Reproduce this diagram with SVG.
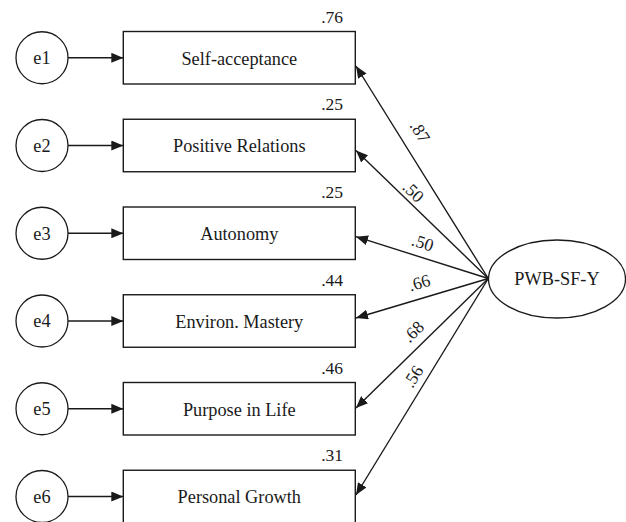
<svg xmlns="http://www.w3.org/2000/svg" width="626" height="522" viewBox="0 0 626 522" font-family="'Liberation Serif', 'DejaVu Serif', serif">
<defs>
<marker id="ah" viewBox="0 0 12 10" refX="12" refY="5" markerWidth="12" markerHeight="10" markerUnits="userSpaceOnUse" orient="auto">
<path d="M0,0 L12,5 L0,10 Z" fill="#1a1a1a"/>
</marker>
</defs>
<style>
text{font-family:'Liberation Serif','DejaVu Serif',serif;fill:#1a1a1a}
.lbl{font-size:18.3px;text-anchor:middle}
.num{font-size:17.5px;text-anchor:end}
.w{font-size:17.5px;text-anchor:middle}
.box{fill:#fff;stroke:#1a1a1a;stroke-width:1.4}
.err{fill:#fff;stroke:#1a1a1a;stroke-width:1.3}
.cn{fill:none;stroke:#1a1a1a;stroke-width:1.4;marker-end:url(#ah)}
</style>
<rect width="626" height="522" fill="#fff"/>
<g id="connectors">
<line class="cn" x1="68" y1="57.75" x2="123.3" y2="57.75"/>
<line class="cn" x1="68" y1="145.5" x2="123.3" y2="145.5"/>
<line class="cn" x1="68" y1="233.25" x2="123.3" y2="233.25"/>
<line class="cn" x1="68" y1="321" x2="123.3" y2="321"/>
<line class="cn" x1="68" y1="408.75" x2="123.3" y2="408.75"/>
<line class="cn" x1="68" y1="496.5" x2="123.3" y2="496.5"/>
<line class="cn" x1="488.3" y1="278.5" x2="356" y2="66"/>
<line class="cn" x1="488.3" y1="278.5" x2="356" y2="150.5"/>
<line class="cn" x1="488.3" y1="278.5" x2="356" y2="236.7"/>
<line class="cn" x1="488.3" y1="278.5" x2="356" y2="318"/>
<line class="cn" x1="488.3" y1="278.5" x2="356" y2="408"/>
<line class="cn" x1="488.3" y1="278.5" x2="356" y2="495"/>
<text class="w" transform="translate(420,131.7) rotate(58.1)" y="5.8">.87</text>
<text class="w" transform="translate(413.3,191.7) rotate(44.05)" y="5.8">.50</text>
<text class="w" transform="translate(422.7,242.7) rotate(17.5)" y="5.8">.50</text>
<text class="w" transform="translate(419.3,282.7) rotate(-16.6)" y="5.8">.66</text>
<text class="w" transform="translate(413.3,331.7) rotate(-44.4)" y="5.8">.68</text>
<text class="w" transform="translate(413.3,376.7) rotate(-58.6)" y="5.8">.56</text>
</g>
<g id="e1"><circle class="err" cx="42" cy="57.75" r="26"/><text class="lbl" x="42" y="64">e1</text></g>
<g id="e2"><circle class="err" cx="42" cy="145.5" r="26"/><text class="lbl" x="42" y="151.75">e2</text></g>
<g id="e3"><circle class="err" cx="42" cy="233.25" r="26"/><text class="lbl" x="42" y="239.5">e3</text></g>
<g id="e4"><circle class="err" cx="42" cy="321" r="26"/><text class="lbl" x="42" y="327.25">e4</text></g>
<g id="e5"><circle class="err" cx="42" cy="408.75" r="26"/><text class="lbl" x="42" y="415">e5</text></g>
<g id="e6"><circle class="err" cx="42" cy="496.5" r="26"/><text class="lbl" x="42" y="502.75">e6</text></g>
<g id="self-acceptance"><rect class="box" x="123.3" y="31.5" width="232" height="52.5"/><text class="lbl" x="239.3" y="64.5">Self-acceptance</text><text class="num" x="343" y="22.5">.76</text></g>
<g id="positive-relations"><rect class="box" x="123.3" y="119.25" width="232" height="52.5"/><text class="lbl" x="239.3" y="152.25">Positive Relations</text><text class="num" x="343" y="110.25">.25</text></g>
<g id="autonomy"><rect class="box" x="123.3" y="207" width="232" height="52.5"/><text class="lbl" x="239.3" y="240">Autonomy</text><text class="num" x="343" y="198">.25</text></g>
<g id="environ-mastery"><rect class="box" x="123.3" y="294.75" width="232" height="52.5"/><text class="lbl" x="239.3" y="327.75">Environ. Mastery</text><text class="num" x="343" y="285.75">.44</text></g>
<g id="purpose-in-life"><rect class="box" x="123.3" y="382.5" width="232" height="52.5"/><text class="lbl" x="239.3" y="415.5">Purpose in Life</text><text class="num" x="343" y="373.5">.46</text></g>
<g id="personal-growth"><rect class="box" x="123.3" y="470.25" width="232" height="52.5"/><text class="lbl" x="239.3" y="503.25">Personal Growth</text><text class="num" x="343" y="461.25">.31</text></g>
<g id="pwb-sf-y"><ellipse class="err" cx="557" cy="279" rx="68.5" ry="39"/><text class="lbl" x="557" y="285.3">PWB-SF-Y</text></g>
</svg>
